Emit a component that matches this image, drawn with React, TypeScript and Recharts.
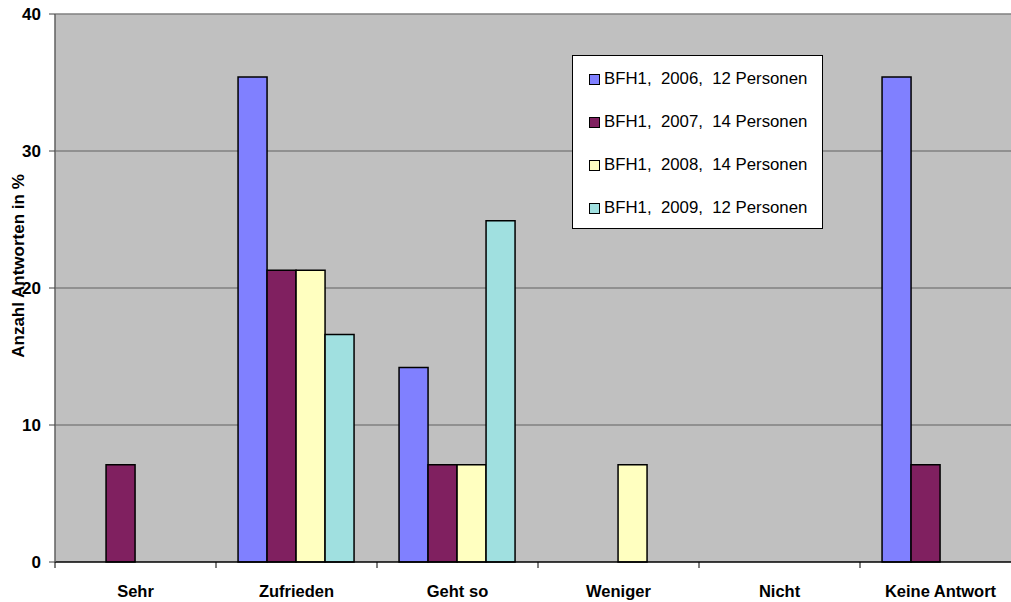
import { BarChart, Bar, XAxis, YAxis, CartesianGrid } from "recharts";

const categories = ["Sehr", "Zufrieden", "Geht so", "Weniger", "Nicht", "Keine Antwort"];
const bfh2006 = [0, 35.4, 14.2, 0, 0, 35.4];
const bfh2007 = [7.1, 21.3, 7.1, 0, 0, 7.1];
const bfh2008 = [0, 21.3, 7.1, 7.1, 0, 0];
const bfh2009 = [0, 16.6, 24.9, 0, 0, 0];
const yTicks = [0, 10, 20, 30, 40];

const series = [
  { key: "s2006", name: "BFH1,  2006,  12 Personen", color: "#8080FF" },
  { key: "s2007", name: "BFH1,  2007,  14 Personen", color: "#802060" },
  { key: "s2008", name: "BFH1,  2008,  14 Personen", color: "#FFFFC0" },
  { key: "s2009", name: "BFH1,  2009,  12 Personen", color: "#A0E0E0" },
];

const data = categories.map((c, i) => ({
  name: c,
  s2006: bfh2006[i] || null,
  s2007: bfh2007[i] || null,
  s2008: bfh2008[i] || null,
  s2009: bfh2009[i] || null,
}));

const font = "'Liberation Sans', Arial, sans-serif";

function XTick(props: any) {
  const { x, y, payload } = props;
  const half = payload.offset || 80.5;
  return (
    <g>
      <line x1={x - half} y1={y - 8} x2={x - half} y2={y - 2} stroke="#000" />
      <text
        x={x}
        y={y + 27}
        textAnchor="middle"
        fontFamily={font}
        fontWeight="bold"
        fontSize={16.5}
        fill="#000"
      >
        {payload.value}
      </text>
    </g>
  );
}

function LegendBox() {
  return (
    <div
      style={{
        position: "absolute",
        left: 572,
        top: 55,
        width: 249,
        height: 172,
        background: "#fff",
        border: "1px solid #000",
        fontFamily: font,
        fontSize: 16.8,
      }}
    >
      {series.map((s, i) => (
        <div
          key={s.key}
          style={{
            position: "absolute",
            left: 16,
            top: 12 + i * 43,
            height: 22,
            display: "flex",
            alignItems: "center",
            whiteSpace: "pre",
            color: "#000",
          }}
        >
          <span
            style={{
              width: 9,
              height: 9,
              background: s.color,
              border: "1px solid #000",
              marginRight: 4,
              display: "inline-block",
            }}
          />
          {s.name}
        </div>
      ))}
    </div>
  );
}

export default function App() {
  return (
    <div
      style={{
        position: "absolute",
        left: 0,
        top: 0,
        width: 1011,
        height: 602,
        overflow: "hidden",
        background: "#fff",
      }}
    >
      <BarChart
        width={1030}
        height={602}
        data={data}
        margin={{ top: 14, right: 9, bottom: 0, left: 10 }}
        barCategoryGap="13.7%"
        barGap={0}
      >
        <CartesianGrid
          vertical={false}
          fill="#C0C0C0"
          stroke="#808080"
          strokeWidth={1.5}
          horizontalValues={[10, 20, 30, 40]}
        />
        <XAxis
          dataKey="name"
          height={40}
          tick={<XTick />}
          tickLine={false}
          axisLine={{ stroke: "#000", strokeWidth: 1.5 }}
          interval={0}
        />
        <YAxis
          width={45}
          domain={[0, 40]}
          ticks={yTicks}
          interval={0}
          tickSize={6}
          tickMargin={8}
          tickLine={{ stroke: "#404040" }}
          axisLine={{ stroke: "#606060", strokeWidth: 1.5 }}
          tick={{ fontFamily: font, fontWeight: "bold", fontSize: 17, fill: "#000" }}
          label={{
            content: () => (
              <text
                x={0}
                y={0}
                transform="translate(24,266) rotate(-90)"
                textAnchor="middle"
                fontFamily={font}
                fontWeight="bold"
                fontSize={17}
                fill="#000"
              >
                Anzahl Antworten in %
              </text>
            ),
          }}
        />
        {series.map((s) => (
          <Bar
            key={s.key}
            dataKey={s.key}
            name={s.name}
            fill={s.color}
            stroke="#000"
            strokeWidth={1.5}
            isAnimationActive={false}
          />
        ))}
      </BarChart>
      <LegendBox />
    </div>
  );
}
